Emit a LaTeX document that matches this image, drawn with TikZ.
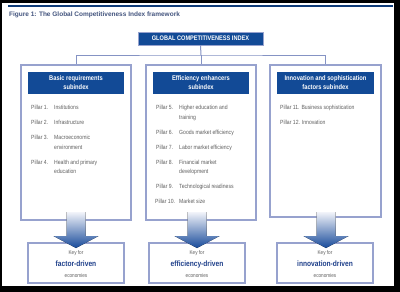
\documentclass[tikz,border=0pt]{standalone}
\usepackage{fontspec}
\setmainfont{Liberation Sans}
\newfontfamily\nar[FakeStretch=0.85]{Liberation Sans}
\definecolor{dkblue}{HTML}{124A96}
\definecolor{bord}{HTML}{97A2CE}
\definecolor{conn}{HTML}{8593C4}
\definecolor{txtgray}{HTML}{5F5F5F}
\definecolor{navy}{HTML}{1E3F8A}
\definecolor{ttl}{HTML}{44557F}
\definecolor{arrtop}{HTML}{F2F4FA}
\definecolor{arrbot}{HTML}{174A9A}
\tikzset{
  outerbox/.style={draw=bord, line width=1.1pt, minimum width=#1, inner sep=0},
  hdr/.style={fill=dkblue, text=white, font=\nar\bfseries\fontsize{6.8}{9}\selectfont, align=center, minimum width=96pt, minimum height=22pt, inner sep=0},
  keybox/.style={draw=bord, line width=1.1pt, fill=white, minimum width=96pt, minimum height=40pt, inner sep=0},
  pl/.style={font=\nar\fontsize{6.0}{9}\selectfont, text=txtgray, anchor=base west, inner sep=0},
  ksm/.style={font=\nar\fontsize{5.5}{6}\selectfont, text=txtgray, anchor=base, inner sep=0},
  kbig/.style={font=\nar\bfseries\fontsize{7.8}{8}\selectfont, text=navy, anchor=base, inner sep=0},
  bigarrow/.style={top color=arrtop, bottom color=arrbot, draw=none},
  connector/.style={draw=conn, line width=1pt}
}
\begin{document}
\begin{tikzpicture}[x=1pt,y=-1pt]
\useasboundingbox (0,0) rectangle (400,292);
\fill[black] (0,0) rectangle (400,292);
\fill[white] (2,3) rectangle (394,286);
\draw[dkblue!80!black, line width=1.3pt] (8,6) -- (393,6);
\node[anchor=base west, inner sep=0, text=ttl, font=\bfseries\fontsize{6.5}{7}\selectfont] (title) at (9,16) {Figure 1: The Global Competitiveness Index framework};

% top box
\node[fill=dkblue, draw=bord, line width=0.4pt, text=white, minimum width=125pt, minimum height=13pt, inner sep=0, font=\nar\bfseries\fontsize{6.6}{8}\selectfont] (gci) at (200.5,38.5) {GLOBAL COMPETITIVENESS INDEX};

% outer boxes
\node[outerbox=110pt, minimum height=155pt] (ob1) at (76,142.5) {};
\node[outerbox=110pt, minimum height=155pt] (ob2) at (201,142.5) {};
\node[outerbox=111pt, minimum height=152pt] (ob3) at (325.5,141) {};

% connectors
\coordinate (j) at (201,55);
\draw[connector] (gci.south) -- (j);
\draw[connector] (ob1.north) |- (j) -| (ob3.north);
\draw[connector] (j) -- (ob2.north);

% headers
\node[hdr] (h1) at (76,83) {Basic requirements\\subindex};
\node[hdr] (h2) at (201,83) {Efficiency enhancers\\subindex};
\node[hdr, minimum width=97pt] (h3) at (325.5,83) {Innovation and sophistication\\factors subindex};

% pillars box 1
\node[pl] (l1) at (31,109) {Pillar 1.};
\node[pl] (t1) at (54,109) {Institutions};
\node[pl] (l2) at (31,124) {Pillar 2.};
\node[pl] (t2) at (54,124) {Infrastructure};
\node[pl] (l3) at (31,139) {Pillar 3.};
\node[pl] (t3) at (54,139) {Macroeconomic};
\node[pl] (t3b) at (54,149) {environment};
\node[pl] (l4) at (31,164) {Pillar 4.};
\node[pl] (t4) at (54,164) {Health and primary};
\node[pl] (t4b) at (54,173.5) {education};

% pillars box 2
\node[pl] (l5) at (156,109) {Pillar 5.};
\node[pl] (t5) at (179,109) {Higher education and};
\node[pl] (t5b) at (179,119) {training};
\node[pl] (l6) at (156,134) {Pillar 6.};
\node[pl] (t6) at (179,134) {Goods market efficiency};
\node[pl] (l7) at (156,149) {Pillar 7.};
\node[pl] (t7) at (179,149) {Labor market efficiency};
\node[pl] (l8) at (156,164) {Pillar 8.};
\node[pl] (t8) at (179,164) {Financial market};
\node[pl] (t8b) at (179,173.5) {development};
\node[pl] (l9) at (156,188.5) {Pillar 9.};
\node[pl] (t9) at (179,188.5) {Technological readiness};
\node[pl] (l10) at (155,203) {Pillar 10.};
\node[pl] (t10) at (179,203) {Market size};

% pillars box 3
\node[pl] (l11) at (280,109) {Pillar 11. Business sophistication};
\node[pl] (l12) at (280,124) {Pillar 12. Innovation};

% key boxes
\node[keybox] (b1) at (76,263) {};
\node[keybox] (b2) at (197,263) {};
\node[keybox] (b3) at (325,263) {};

% arrows
\fill[bigarrow] (66.5,212) -- (85.5,212) -- (85.5,236) -- (98.5,236) -- (76,248) -- (53.5,236) -- (66.5,236) -- cycle;
\fill[bigarrow] (187.5,212) -- (206.5,212) -- (206.5,236) -- (219.5,236) -- (197,248) -- (174.5,236) -- (187.5,236) -- cycle;
\fill[bigarrow] (316.5,212) -- (335.5,212) -- (335.5,236) -- (348.5,236) -- (326,248) -- (303.5,236) -- (316.5,236) -- cycle;

% key texts
\node[ksm] (k1a) at (76,254.5) {Key for};
\node[kbig] (k1b) at (76,266) {factor-driven};
\node[ksm] (k1c) at (76,277) {economies};
\node[ksm] (k2a) at (197,254.5) {Key for};
\node[kbig] (k2b) at (197,266) {efficiency-driven};
\node[ksm] (k2c) at (197,277) {economies};
\node[ksm] (k3a) at (325,254.5) {Key for};
\node[kbig] (k3b) at (325,266) {innovation-driven};
\node[ksm] (k3c) at (325,277) {economies};
\end{tikzpicture}
\end{document}
